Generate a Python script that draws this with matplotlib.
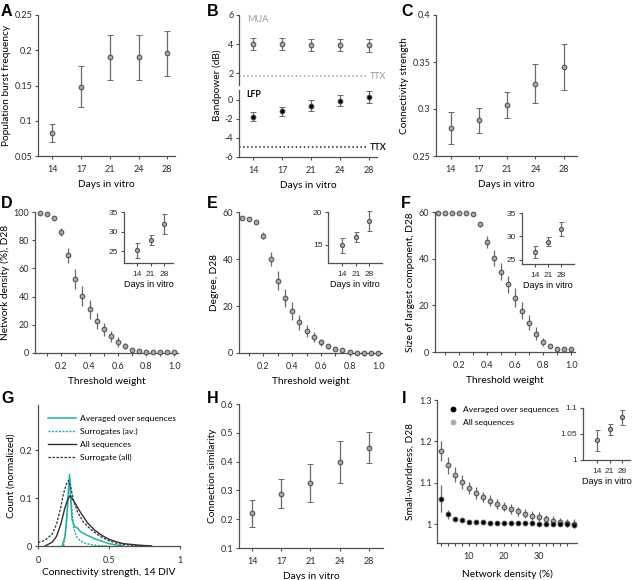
import matplotlib
matplotlib.use('Agg')
import matplotlib.pyplot as plt
from matplotlib.lines import Line2D
from matplotlib.ticker import FixedLocator

plt.rcParams['font.family'] = ['Lato', 'DejaVu Sans']
plt.rcParams['font.size'] = 6.5

W, H = 640, 580

# --- Data ---
days = ['14', '17', '21', '24', '28']
days_inset = ['14', '21', '28']

burst_freq = [0.083, 0.148, 0.190, 0.190, 0.196]
burst_err = [0.0125, 0.029, 0.032, 0.032, 0.032]

mua = [4.0, 4.0, 3.95, 3.95, 3.92]
mua_err = [0.4, 0.42, 0.42, 0.42, 0.45]
lfp = [-1.77, -1.24, -0.64, -0.12, 0.27]
lfp_err = [0.43, 0.5, 0.58, 0.6, 0.65]
ttx_mua = 1.8
ttx_lfp = -5.0

conn_strength = [0.280, 0.288, 0.304, 0.327, 0.345]
conn_strength_err = [0.017, 0.0135, 0.014, 0.0205, 0.0245]

threshold = [0.05, 0.1, 0.15, 0.2, 0.25, 0.3, 0.35, 0.4, 0.45, 0.5,
             0.55, 0.6, 0.65, 0.7, 0.75, 0.8, 0.85, 0.9, 0.95, 1.0]
density = [99.3, 98.5, 96.0, 85.8, 69.3, 52.7, 40.2, 30.9, 22.7, 16.8,
           11.8, 7.8, 5.0, 2.4, 1.4, 0.9, 0.7, 0.5, 0.5, 0.5]
density_err = [0.3, 0.5, 1.0, 3.0, 5.3, 7.0, 7.0, 6.5, 6.0, 4.6,
               3.8, 3.2, 2.0, 1.0, 0.6, 0.4, 0.3, 0.2, 0.2, 0.2]
density_days = [25.3, 27.8, 31.9]
density_days_err = [1.9, 1.25, 2.6]

degree = [57.6, 57.2, 55.6, 49.9, 40.0, 30.8, 23.4, 17.7, 13.0, 9.5,
          6.8, 4.5, 2.8, 1.7, 1.1, 0.4, 0.2, 0.1, 0.1, 0.1]
degree_err = [0.3, 0.3, 0.5, 1.4, 3.0, 3.9, 3.8, 3.8, 3.2, 2.5,
              2.1, 1.5, 1.0, 0.6, 0.3, 0.2, 0.1, 0.1, 0.1, 0.1]
degree_days = [14.9, 16.2, 18.6]
degree_days_err = [1.1, 0.75, 1.5]

largest_comp = [59.4, 59.4, 59.4, 59.4, 59.4, 59.0, 54.7, 47.2, 40.3, 34.5,
                29.1, 23.3, 17.7, 12.5, 7.9, 4.3, 2.4, 1.2, 1.2, 1.2]
largest_comp_err = [0.2, 0.2, 0.2, 0.2, 0.2, 0.3, 1.0, 2.5, 3.4, 3.5,
                    3.6, 4.0, 3.7, 3.2, 2.7, 1.6, 0.8, 0.7, 0.3, 0.3]
largest_comp_days = [26.6, 28.9, 31.6]
largest_comp_days_err = [1.3, 1.05, 1.55]

# G: distributions of connectivity strength (14 DIV)
avg_x = [0.17, 0.19, 0.205, 0.215, 0.222, 0.23, 0.24, 0.26, 0.28, 0.30,
         0.35, 0.40, 0.45, 0.50, 0.55, 0.60]
avg_y = [0.0, 0.02, 0.07, 0.12, 0.15, 0.10, 0.055, 0.04, 0.037, 0.03,
         0.022, 0.015, 0.01, 0.005, 0.002, 0.0]
surr_avg_x = [0.18, 0.20, 0.21, 0.22, 0.227, 0.235, 0.25, 0.27, 0.30, 0.33,
              0.37, 0.42, 0.50]
surr_avg_y = [0.0, 0.04, 0.09, 0.13, 0.14, 0.09, 0.04, 0.02, 0.01, 0.006,
              0.003, 0.001, 0.0]
all_x = [0.05, 0.10, 0.13, 0.16, 0.19, 0.21, 0.225, 0.24, 0.27, 0.30,
         0.35, 0.40, 0.45, 0.50, 0.55, 0.60, 0.70, 0.80]
all_y = [0.0, 0.008, 0.02, 0.045, 0.08, 0.098, 0.105, 0.10, 0.085, 0.07,
         0.048, 0.033, 0.022, 0.014, 0.009, 0.005, 0.002, 0.0]
surr_all_x = [0.0, 0.05, 0.10, 0.13, 0.16, 0.18, 0.20, 0.215, 0.23, 0.25,
              0.28, 0.32, 0.36, 0.40, 0.45, 0.50, 0.55, 0.60, 0.70, 0.80]
surr_all_y = [0.007, 0.012, 0.025, 0.045, 0.08, 0.11, 0.13, 0.137, 0.125, 0.095,
              0.07, 0.05, 0.038, 0.028, 0.018, 0.011, 0.006, 0.003, 0.001, 0.0]

similarity = [0.221, 0.289, 0.327, 0.398, 0.448]
similarity_err = [0.047, 0.05, 0.066, 0.074, 0.054]

net_density = [2, 4, 6, 8, 10, 12, 14, 16, 18, 20,
               22, 24, 26, 28, 30, 32, 34, 36, 38, 40]
sw_all = [1.176, 1.142, 1.120, 1.102, 1.088, 1.076, 1.066, 1.057, 1.050, 1.043,
          1.037, 1.031, 1.026, 1.021, 1.018, 1.012, 1.009, 1.006, 1.004, 1.002]
sw_all_err = [0.024, 0.02, 0.018, 0.016, 0.015, 0.014, 0.013, 0.013, 0.012, 0.012,
              0.012, 0.011, 0.011, 0.011, 0.011, 0.01, 0.01, 0.01, 0.01, 0.01]
sw_avg = [1.062, 1.024, 1.012, 1.010, 1.006, 1.005, 1.005, 1.004, 1.004, 1.003,
          1.003, 1.003, 1.003, 1.004, 1.001, 1.002, 1.0, 1.002, 1.0, 0.998]
sw_avg_err = [0.032, 0.01, 0.004, 0.003, 0.002, 0.002, 0.002, 0.002, 0.002, 0.002,
              0.002, 0.002, 0.002, 0.002, 0.002, 0.002, 0.002, 0.002, 0.002, 0.002]
sw_days = [1.038, 1.059, 1.082]
sw_days_err = [0.02, 0.011, 0.014]

# --- Styles ---
SPINE = '#505050'
EDGE = '#4a4a4a'
FACE = '#a8a8a8'
ERR = '#6a6a6a'
TEAL = '#1fb0a6'
INSET_FONT = ['Liberation Sans', 'DejaVu Sans']
TICK_FS = 6.5
LABEL_FS = 7.3

fig = plt.figure(figsize=(6.4, 5.8), dpi=100)


def add_ax(l, t, r, b):
    return fig.add_axes([l / W, 1 - b / H, (r - l) / W, (b - t) / H])


def style(ax, fs=TICK_FS):
    for s in ('top', 'right'):
        ax.spines[s].set_visible(False)
    for s in ('left', 'bottom'):
        ax.spines[s].set_color(SPINE)
        ax.spines[s].set_linewidth(0.9)
    ax.tick_params(direction='out', length=2.5, width=0.8, colors=SPINE,
                   labelcolor='#2a2a2a', labelsize=fs)
    ax.tick_params(axis='y', pad=1.5)
    ax.tick_params(axis='x', pad=4)
    ax.tick_params(which='minor', length=2.5, width=0.8, colors=SPINE)
    ax.yaxis.labelpad = 3
    ax.patch.set_alpha(0)


def dots(ax, x, y, e, ms=3.4, fc=FACE, caps=2.5):
    c = ax.errorbar(x, y, yerr=e, fmt='o', ms=ms, mfc=fc, mec=EDGE, mew=0.7,
                    ecolor=ERR, elinewidth=0.9, capsize=caps, capthick=0.9, zorder=3)
    for art in c.get_children():
        art.set_clip_on(False)


def days_axis(ax, labels, pad_l=-0.5, pad_r=4.27):
    ax.set_xticks(range(len(labels)))
    ax.set_xticklabels(labels)
    ax.set_xlim(pad_l, pad_r)


def inset(ax, vals, errs, lo, hi, ticks, pad_l, pad_r, label_fmt=None):
    style(ax, fs=6)
    dots(ax, range(3), vals, errs, ms=3.0, caps=1.8)
    ax.set_xticks(range(3))
    ax.set_xticklabels(days_inset, family=INSET_FONT)
    ax.set_xlim(-pad_l, 2 + pad_r)
    ax.set_ylim(lo, hi)
    ax.set_yticks(ticks)
    if label_fmt:
        ax.set_yticklabels(label_fmt)
    for t in ax.get_yticklabels():
        t.set_family(INSET_FONT)
    ax.set_xlabel('Days in vitro', family=INSET_FONT, fontsize=6.5, labelpad=2)
    ax.tick_params(length=2.5)
    ax.tick_params(axis='x', pad=3)


def letter(x, y, s):
    fig.text(x / W, 1 - y / H, s, fontsize=11.5, fontweight='bold',
             family=['Liberation Sans', 'DejaVu Sans'], va='top', ha='left')


# --- A ---
axA = add_ax(38, 15, 175, 156)
style(axA)
dots(axA, range(5), burst_freq, burst_err)
days_axis(axA, days)
axA.set_ylim(0.05, 0.25)
axA.set_yticks([0.05, 0.1, 0.15, 0.2, 0.25])
axA.set_yticklabels(['0.05', '0.1', '0.15', '0.2', '0.25'])
axA.set_ylabel('Population burst frequency', fontsize=LABEL_FS)
axA.set_xlabel('Days in vitro', fontsize=LABEL_FS)

# --- B (broken axis: MUA above, LFP below) ---
axBu = add_ax(239, 15, 377, 85)
axBl = add_ax(239, 90, 377, 157)
style(axBu)
style(axBl)
axBu.spines['bottom'].set_visible(False)
axBu.tick_params(axis='x', bottom=False, labelbottom=False)
dots(axBu, range(5), mua, mua_err)
dots(axBl, range(5), lfp, lfp_err, fc='black')
for ax in (axBu, axBl):
    days_axis(ax, days)
axBu.set_ylim(1.2, 6)
axBu.set_yticks([2, 4, 6])
axBl.set_ylim(-6, 1.0)
axBl.set_yticks([-6, -4, -2, 0])
axBl.set_yticklabels(['-6', '-4', '-2', '0'])
axBu.axhline(ttx_mua, xmin=0, xmax=0.93, color='#a0a0a0', ls=':', lw=1.1)
axBl.axhline(ttx_lfp, xmin=0, xmax=0.93, color='#202020', ls=':', lw=1.1)
axBu.text(0.95, ttx_mua, 'TTX', color='#9a9a9a', fontsize=6.5, va='center',
          transform=axBu.get_yaxis_transform())
axBl.text(0.95, ttx_lfp, 'TTX', color='#202020', fontsize=6.5, va='center',
          fontweight='bold', transform=axBl.get_yaxis_transform())
axBu.text(0.06, 0.93, 'MUA', color='#9a9a9a', fontsize=6.5, va='center',
          transform=axBu.transAxes)
axBl.text(0.05, 0.93, 'LFP', color='black', fontsize=6.3, va='center',
          fontweight='bold', transform=axBl.transAxes)
axBl.set_xlabel('Days in vitro', fontsize=LABEL_FS)
fig.text(212 / W, 1 - 85 / H, 'Bandpower (dB)', rotation=90, fontsize=LABEL_FS,
         ha='left', va='center')

# --- C ---
axC = add_ax(436, 15, 577, 156)
style(axC)
dots(axC, range(5), conn_strength, conn_strength_err)
days_axis(axC, days, -0.52, 4.47)
axC.set_ylim(0.25, 0.4)
axC.set_yticks([0.25, 0.3, 0.35, 0.4])
axC.set_yticklabels(['0.25', '0.3', '0.35', '0.4'])
axC.set_ylabel('Connectivity strength', fontsize=LABEL_FS)
axC.set_xlabel('Days in vitro', fontsize=LABEL_FS)


def threshold_axis(ax, xlo):
    ax.set_xlim(xlo, 1.025)
    ax.xaxis.set_major_locator(FixedLocator([0.2, 0.4, 0.6, 0.8, 1.0]))
    ax.set_xticklabels(['0.2', '0.4', '0.6', '0.8', '1.0'])
    ax.xaxis.set_minor_locator(FixedLocator([0.1, 0.3, 0.5, 0.7, 0.9]))
    ax.set_xlabel('Threshold weight', fontsize=LABEL_FS)


# --- D ---
axD = add_ax(35, 212, 178, 353)
style(axD)
dots(axD, threshold, density, density_err, caps=0)
threshold_axis(axD, 0.015)
axD.set_ylim(0, 100)
axD.set_yticks([0, 20, 40, 60, 80, 100])
axD.set_ylabel('Network density (%), D28', fontsize=LABEL_FS)
axDi = add_ax(124, 212, 173, 263)
inset(axDi, density_days, density_days_err, 22, 35, [25, 30, 35], 1.0, 0.67)

# --- E ---
axE = add_ax(239, 212, 382, 353)
style(axE)
dots(axE, threshold, degree, degree_err, caps=0)
threshold_axis(axE, 0.03)
axE.set_ylim(0, 60)
axE.set_yticks([0, 20, 40, 60])
axE.set_ylabel('Degree, D28', fontsize=LABEL_FS)
axEi = add_ax(328, 212, 382, 263)
inset(axEi, degree_days, degree_days_err, 12.2, 20, [15, 20], 1.07, 0.93)

# --- F ---
axF = add_ax(435, 212, 575, 352)
style(axF)
dots(axF, threshold, largest_comp, largest_comp_err, caps=0)
threshold_axis(axF, 0.026)
axF.set_ylim(0, 60)
axF.set_yticks([0, 20, 40, 60])
axF.set_ylabel('Size of largest component, D28', fontsize=LABEL_FS)
axFi = add_ax(522, 213, 574, 264)
inset(axFi, largest_comp_days, largest_comp_days_err, 24.1, 35, [25, 30, 35], 1.03, 1.0)

# --- G ---
axG = add_ax(38, 405, 180, 546)
style(axG)
axG.plot(avg_x, avg_y, color=TEAL, lw=1.1, label='Averaged over sequences')
axG.plot(surr_avg_x, surr_avg_y, color=TEAL, lw=1.0, ls=(0, (1.5, 1)),
         label='Surrogates (av.)')
axG.plot(all_x, all_y, color='#303030', lw=1.0, label='All sequences')
axG.plot(surr_all_x, surr_all_y, color='#303030', lw=0.9, ls=(0, (2, 1.2)),
         label='Surrogate (all)')
axG.set_xlim(0, 1)
axG.set_ylim(0, 0.295)
axG.set_xticks([0, 0.5, 1])
axG.set_xticklabels(['0', '0.5', '1'])
axG.set_yticks([0, 0.1, 0.2])
axG.set_yticklabels(['0', '0.1', '0.2'])
axG.tick_params(axis='x', pad=5)
axG.set_ylabel('Count (normalized)', fontsize=LABEL_FS)
axG.set_xlabel('Connectivity strength, 14 DIV', fontsize=LABEL_FS, labelpad=2)
axG.legend(loc='upper left', bbox_to_anchor=(0.07, 0.93), frameon=False,
           fontsize=6.1, handlelength=3.3, handletextpad=0.5, labelspacing=0.7,
           borderaxespad=0, borderpad=0)

# --- H ---
axH = add_ax(239, 404, 383, 548)
style(axH)
dots(axH, range(5), similarity, similarity_err)
days_axis(axH, days, -0.45, 4.49)
axH.set_ylim(0.1, 0.6)
axH.set_yticks([0.1, 0.2, 0.3, 0.4, 0.5, 0.6])
axH.set_ylabel('Connection similarity', fontsize=LABEL_FS)
axH.set_xlabel('Days in vitro', fontsize=LABEL_FS)

# --- I ---
axI = add_ax(437, 400, 577, 543)
style(axI)
dots(axI, net_density, sw_all, sw_all_err, caps=0)
dots(axI, net_density, sw_avg, sw_avg_err, fc='black', caps=0)
axI.set_xlim(1.0, 41)
axI.set_ylim(0.955, 1.3)
axI.xaxis.set_major_locator(FixedLocator([10, 20, 30]))
axI.xaxis.set_minor_locator(FixedLocator([v for v in net_density if v % 10]))
axI.set_yticks([1, 1.1, 1.2, 1.3])
axI.set_yticklabels(['1', '1.1', '1.2', '1.3'])
axI.set_ylabel('Small-worldness, D28', fontsize=LABEL_FS)
axI.set_xlabel('Network density (%)', fontsize=LABEL_FS, labelpad=6)
handles = [Line2D([], [], ls='', marker='o', ms=3.2, mfc='black', mec='black'),
           Line2D([], [], ls='', marker='o', ms=3.2, mfc=FACE, mec='#b0b0b0')]
axI.legend(handles, ['Averaged over sequences', 'All sequences'],
           loc='upper left', bbox_to_anchor=(0.09, 0.96), frameon=False,
           fontsize=6.1, handlelength=0.8, handletextpad=0.8, labelspacing=0.75,
           borderaxespad=0, borderpad=0)
axIi = add_ax(583, 408, 630, 460)
inset(axIi, sw_days, sw_days_err, 1.0, 1.1, [1, 1.05, 1.1], 1.07, 0.6,
      ['1', '1.05', '1.1'])

# --- Panel letters ---
letter(1, 4, 'A')
letter(207, 4, 'B')
letter(401, 4, 'C')
letter(1, 196, 'D')
letter(207, 196, 'E')
letter(401, 196, 'F')
letter(1, 391, 'G')
letter(207, 391, 'H')
letter(402, 391, 'I')

fig.savefig('out.png', dpi=100)
